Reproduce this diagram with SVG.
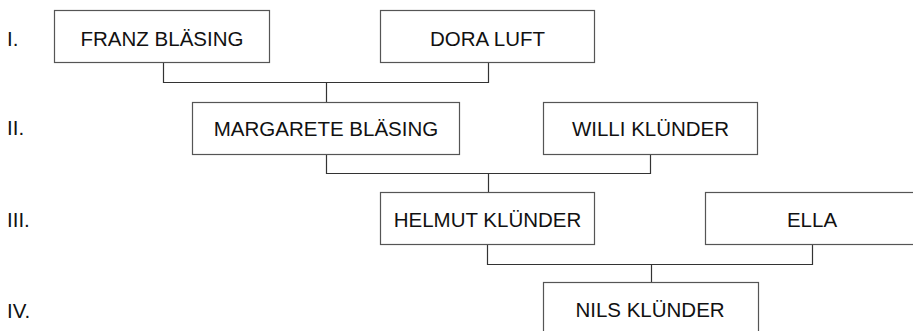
<svg xmlns="http://www.w3.org/2000/svg" width="913" height="331" viewBox="0 0 913 331">
<style>
.box{fill:#fff;stroke:#555;stroke-width:1.2}
.t{font-family:"Liberation Sans",Arial,sans-serif;font-size:20.5px;fill:#111;text-anchor:middle}
.lbl{font-family:"Liberation Sans",Arial,sans-serif;font-size:20.5px;fill:#111}
.c{fill:none;stroke:#333;stroke-width:1.2}
</style>
<rect width="913" height="331" fill="#fff"/>
<g id="labels">
<text class="lbl" x="7" y="46">I.</text>
<text class="lbl" x="7" y="135">II.</text>
<text class="lbl" x="7" y="226.5">III.</text>
<text class="lbl" x="7" y="318">IV.</text>
</g>
<g id="connectors">
<path class="c" d="M163.5,62 V82.5 H488.5 V62 M326.5,82.5 V102"/>
<path class="c" d="M326.5,154 V173.5 H650.5 V154 M488.5,173.5 V192"/>
<path class="c" d="M487.5,244 V264.5 H812.5 V244 M651.5,264.5 V282"/>
</g>
<g id="franz"><rect class="box" x="54.5" y="10.5" width="215" height="52"/><text class="t" x="162" y="46">FRANZ BLÄSING</text></g>
<g id="dora"><rect class="box" x="380.5" y="10.5" width="214" height="52"/><text class="t" x="487.5" y="46">DORA LUFT</text></g>
<g id="margarete"><rect class="box" x="192.5" y="102.5" width="267" height="52"/><text class="t" x="326" y="135.5">MARGARETE BLÄSING</text></g>
<g id="willi"><rect class="box" x="543.5" y="102.5" width="214" height="52"/><text class="t" x="650.5" y="135.5">WILLI KLÜNDER</text></g>
<g id="helmut"><rect class="box" x="380.5" y="192.5" width="214" height="52"/><text class="t" x="487.5" y="226.5">HELMUT KLÜNDER</text></g>
<g id="ella"><rect class="box" x="705.5" y="192.5" width="214" height="52"/><text class="t" x="812" y="226.5">ELLA</text></g>
<g id="nils"><rect class="box" x="543.5" y="282.5" width="215" height="52"/><text class="t" x="650" y="316.5">NILS KLÜNDER</text></g>
</svg>
